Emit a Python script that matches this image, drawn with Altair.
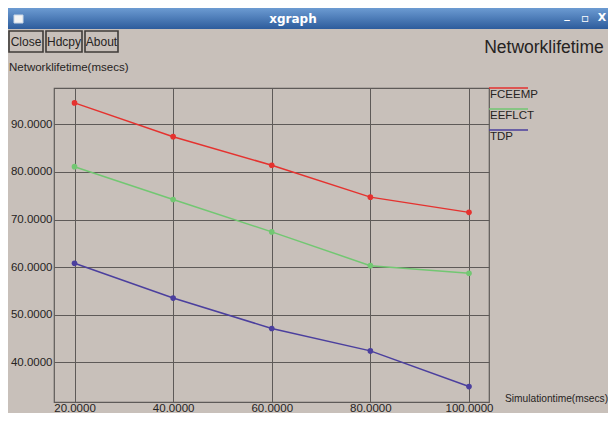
import altair as alt
import pandas as pd

# ---- data ----
sim_time = [20, 40, 60, 80, 100]
fceemp = [94.5, 87.4, 81.4, 74.7, 71.5]
eeflct = [81.1, 74.2, 67.4, 60.3, 58.7]
tdp = [60.8, 53.5, 47.1, 42.4, 34.9]
series_names = ["FCEEMP", "EEFLCT", "TDP"]
series_colors = ["#e5322f", "#72c772", "#4b3f9e"]
x_ticks = [20, 40, 60, 80, 100]
y_ticks = [40, 50, 60, 70, 80, 90]
buttons = ["Close", "Hdcpy", "About"]

rows = []
for name, vals in zip(series_names, [fceemp, eeflct, tdp]):
    for t, v in zip(sim_time, vals):
        rows.append({"t": t, "v": v, "series": name})
df = pd.DataFrame(rows)

FONT = "Liberation Sans, Arial, sans-serif"
BG = "#c8c0ba"
GRID = "#5e5a58"
TXT = "#262322"

# plot area origin in page coordinates
OX, OY = 54, 88
W, H = 435, 314


def px(x):
    return alt.value(x - OX)


def py(y):
    return alt.value(y - OY)


one = pd.DataFrame({"a": [0]})

xscale = alt.Scale(domain=[15.84, 104.06], nice=False, zero=False)
yscale = alt.Scale(domain=[31.66, 97.63], nice=False, zero=False)
cscale = alt.Scale(domain=series_names, range=series_colors)

# title bar
titlebar = alt.Chart(one).mark_rect(
    color=alt.LinearGradient(
        gradient="linear",
        stops=[alt.GradientStop(offset=0, color="#6c9bd2"),
               alt.GradientStop(offset=1, color="#2d5c9c")],
        x1=0, x2=0, y1=0, y2=1,
    )
).encode(x=px(8), x2=px(616), y=py(8), y2=py(29))

icon = alt.Chart(one).mark_rect(fill="#f4f4f4", stroke="#c9d6e6").encode(
    x=px(14), x2=px(23), y=py(15), y2=py(23)
)

title_text = alt.Chart(one).mark_text(
    text="xgraph", font="DejaVu Sans", fontWeight="bold", fontSize=12, color="white"
).encode(x=px(293), y=py(19))

win_btns = alt.layer(
    alt.Chart(one).mark_text(text="_", font="DejaVu Sans", fontWeight="bold", fontSize=11, color="white").encode(x=px(567), y=py(15)),
    alt.Chart(one).mark_text(text="▫", font="DejaVu Sans", fontSize=12, color="white").encode(x=px(585), y=py(18)),
    alt.Chart(one).mark_text(text="X", font="DejaVu Sans", fontWeight="bold", fontSize=11, color="white").encode(x=px(602), y=py(18)),
)

# buttons
btn_x = [(9, 43), (46, 82), (85, 118)]
btn_layers = []
for (x0, x1), label in zip(btn_x, buttons):
    btn_layers.append(
        alt.Chart(one).mark_rect(fill=BG, stroke="#3f3b39", strokeWidth=1.6).encode(
            x=px(x0), x2=px(x1), y=py(31), y2=py(52)
        )
    )
    btn_layers.append(
        alt.Chart(one).mark_text(text=label, font=FONT, fontSize=12, color=TXT).encode(
            x=px((x0 + x1) / 2), y=py(42)
        )
    )

big_title = alt.Chart(one).mark_text(
    text="Networklifetime", font=FONT, fontSize=17.5, color=TXT, align="center"
).encode(x=px(544), y=py(48))

ytitle = alt.Chart(one).mark_text(
    text="Networklifetime(msecs)", font=FONT, fontSize=11.5, color=TXT, align="left"
).encode(x=px(9), y=py(68))

xtitle = alt.Chart(one).mark_text(
    text="Simulationtime(msecs)", font=FONT, fontSize=10.2, color=TXT, align="left"
).encode(x=px(505), y=py(399))

# data layers
base = alt.Chart(df).encode(
    x=alt.X("t:Q", scale=xscale,
            axis=alt.Axis(values=x_ticks, format=".4f", title=None, grid=True,
                          gridColor=GRID, gridWidth=1, gridOpacity=1,
                          domain=False, ticks=False, labelFont=FONT, labelFontSize=11.5,
                          labelColor=TXT, labelPadding=0, labelFlush=False)),
    y=alt.Y("v:Q", scale=yscale,
            axis=alt.Axis(values=y_ticks, format=".4f", title=None, grid=True,
                          gridColor=GRID, gridWidth=1, gridOpacity=1,
                          domain=False, ticks=False, labelFont=FONT, labelFontSize=11.5,
                          labelColor=TXT, labelPadding=2)),
    color=alt.Color("series:N", scale=cscale, legend=None),
    detail="series:N",
)
lines = base.mark_line(strokeWidth=1.5)
points = base.mark_circle(size=32, opacity=1)

# legend (xgraph style: line above label)
leg_layers = []
leg_line_y = [88, 109, 130]
for name, col, ly in zip(series_names, series_colors, leg_line_y):
    leg_layers.append(
        alt.Chart(one).mark_rule(color=col, strokeWidth=1.5).encode(
            x=px(489), x2=px(528), y=py(ly)
        )
    )
    leg_layers.append(
        alt.Chart(one).mark_text(text=name, font=FONT, fontSize=11.5, color=TXT, align="left").encode(
            x=px(490), y=py(ly + 7)
        )
    )

chart = alt.layer(
    titlebar, icon, title_text, win_btns, *btn_layers,
    big_title, ytitle, xtitle, lines, points, *leg_layers
).properties(
    width=W, height=H,
    autosize=alt.AutoSizeParams(type="none"),
    padding={"left": 46, "top": 80, "right": 119, "bottom": 11},
    background=BG,
).configure_view(
    stroke=GRID, strokeWidth=1.2
)

chart.save("out.html", embed_options={"renderer": "svg", "actions": False})
